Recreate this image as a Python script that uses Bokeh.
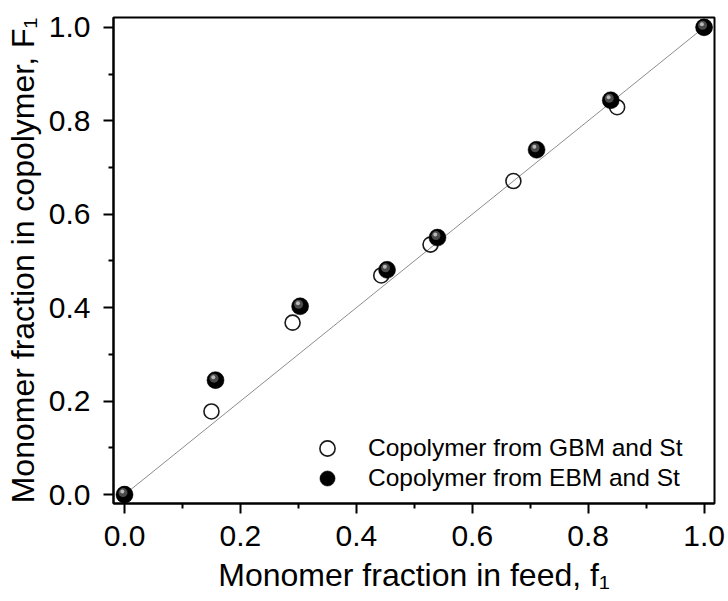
from bokeh.plotting import figure
from bokeh.models import Range1d, FixedTicker, Legend, LegendItem, PrintfTickFormatter
from bokeh.embed import file_html
from bokeh.resources import INLINE

# ---- data ----
gbm_f1 = [0.0, 0.150, 0.290, 0.443, 0.528, 0.671, 0.850, 1.0]
gbm_F1 = [0.0, 0.178, 0.368, 0.469, 0.535, 0.671, 0.829, 1.0]
ebm_f1 = [0.0, 0.157, 0.303, 0.453, 0.540, 0.711, 0.839, 1.0]
ebm_F1 = [0.0, 0.245, 0.403, 0.481, 0.550, 0.738, 0.844, 1.0]
ideal_x = [0.0, 1.0]
ideal_y = [0.0, 1.0]
major_ticks = [0.0, 0.2, 0.4, 0.6, 0.8, 1.0]
minor_ticks = [0.1, 0.3, 0.5, 0.7, 0.9]
labels = ["Copolymer from GBM and St", "Copolymer from EBM and St"]

FONT = "Liberation Sans"
X0, X1 = -0.019, 1.018
Y0, Y1 = -0.019, 1.021
W, H = 728, 601
BL, BR, BT, BB = 113, 14, 17, 98

p = figure(width=W, height=H, output_backend="svg", toolbar_location=None,
           x_range=Range1d(X0, X1), y_range=Range1d(Y0, Y1),
           min_border_left=BL, min_border_right=BR,
           min_border_top=BT, min_border_bottom=BB)
p.grid.visible = False
p.outline_line_color = "black"
p.outline_line_width = 2
p.background_fill_color = "white"
p.border_fill_color = "white"

for ax in (p.xaxis[0], p.yaxis[0]):
    ax.ticker = FixedTicker(ticks=major_ticks, minor_ticks=minor_ticks)
    ax.formatter = PrintfTickFormatter(format="%.1f")
    ax.axis_line_width = 2
    ax.axis_line_color = "black"
    ax.major_tick_line_width = 2
    ax.minor_tick_line_width = 2
    ax.major_tick_line_color = "black"
    ax.minor_tick_line_color = "black"
    ax.major_tick_out = 10
    ax.major_tick_in = 0
    ax.minor_tick_out = 5
    ax.minor_tick_in = 0
    ax.major_label_text_font = FONT
    ax.major_label_text_font_size = "30px"
    ax.major_label_text_color = "black"
    ax.axis_label_text_font = FONT
    ax.axis_label_text_font_size = "32px"
    ax.axis_label_text_font_style = "normal"
    ax.axis_label_text_color = "black"

p.xaxis[0].axis_label = "Monomer fraction in feed, f\u2081"
p.yaxis[0].axis_label = "Monomer fraction in copolymer, F\u2081"
p.xaxis[0].major_label_standoff = 12
p.yaxis[0].major_label_standoff = 13
p.xaxis[0].axis_label_standoff = 8
p.yaxis[0].axis_label_standoff = 5

# ideal (azeotropic) line
p.line(ideal_x, ideal_y, line_color="#8c8c8c", line_width=1)

# open circles
r_open = p.scatter(gbm_f1, gbm_F1, marker="circle", size=15,
                   fill_color=None, line_color="#1a1a1a", line_width=1.6)

# filled "spheres"
px_x = (X1 - X0) / (W - BL - BR)
px_y = (Y1 - Y0) / (H - BT - BB)
r_fill = p.scatter(ebm_f1, ebm_F1, marker="circle", size=17,
                   fill_color="black", line_color="black", line_width=0.5)
hx1 = [v - 1.5 * px_x for v in ebm_f1]
hy1 = [v + 2.0 * px_y for v in ebm_F1]
r_h1 = p.scatter(hx1, hy1, marker="circle", size=9,
                 fill_color="#4a4a4a", line_color=None)
hx2 = [v - 2.2 * px_x for v in ebm_f1]
hy2 = [v + 3.0 * px_y for v in ebm_F1]
r_h2 = p.scatter(hx2, hy2, marker="circle", size=4,
                 fill_color="#b8b8b8", line_color=None)


def make_legend(label, renderer, loc):
    lg = Legend(items=[LegendItem(label=label, renderers=[renderer])], location=loc)
    lg.border_line_color = None
    lg.background_fill_alpha = 0
    lg.label_text_font = FONT
    lg.label_text_font_size = "24.5px"
    lg.label_text_color = "black"
    lg.padding = 5
    lg.margin = 0
    lg.spacing = 0
    lg.glyph_width = 38
    lg.glyph_height = 38
    lg.label_height = 20
    lg.label_standoff = 22
    return lg


p.add_layout(make_legend(labels[0], r_open, (195, 36)), "center")
p.add_layout(make_legend(labels[1], r_fill, (195, 6)), "center")

open("out.html", "w").write(file_html(p, INLINE))
